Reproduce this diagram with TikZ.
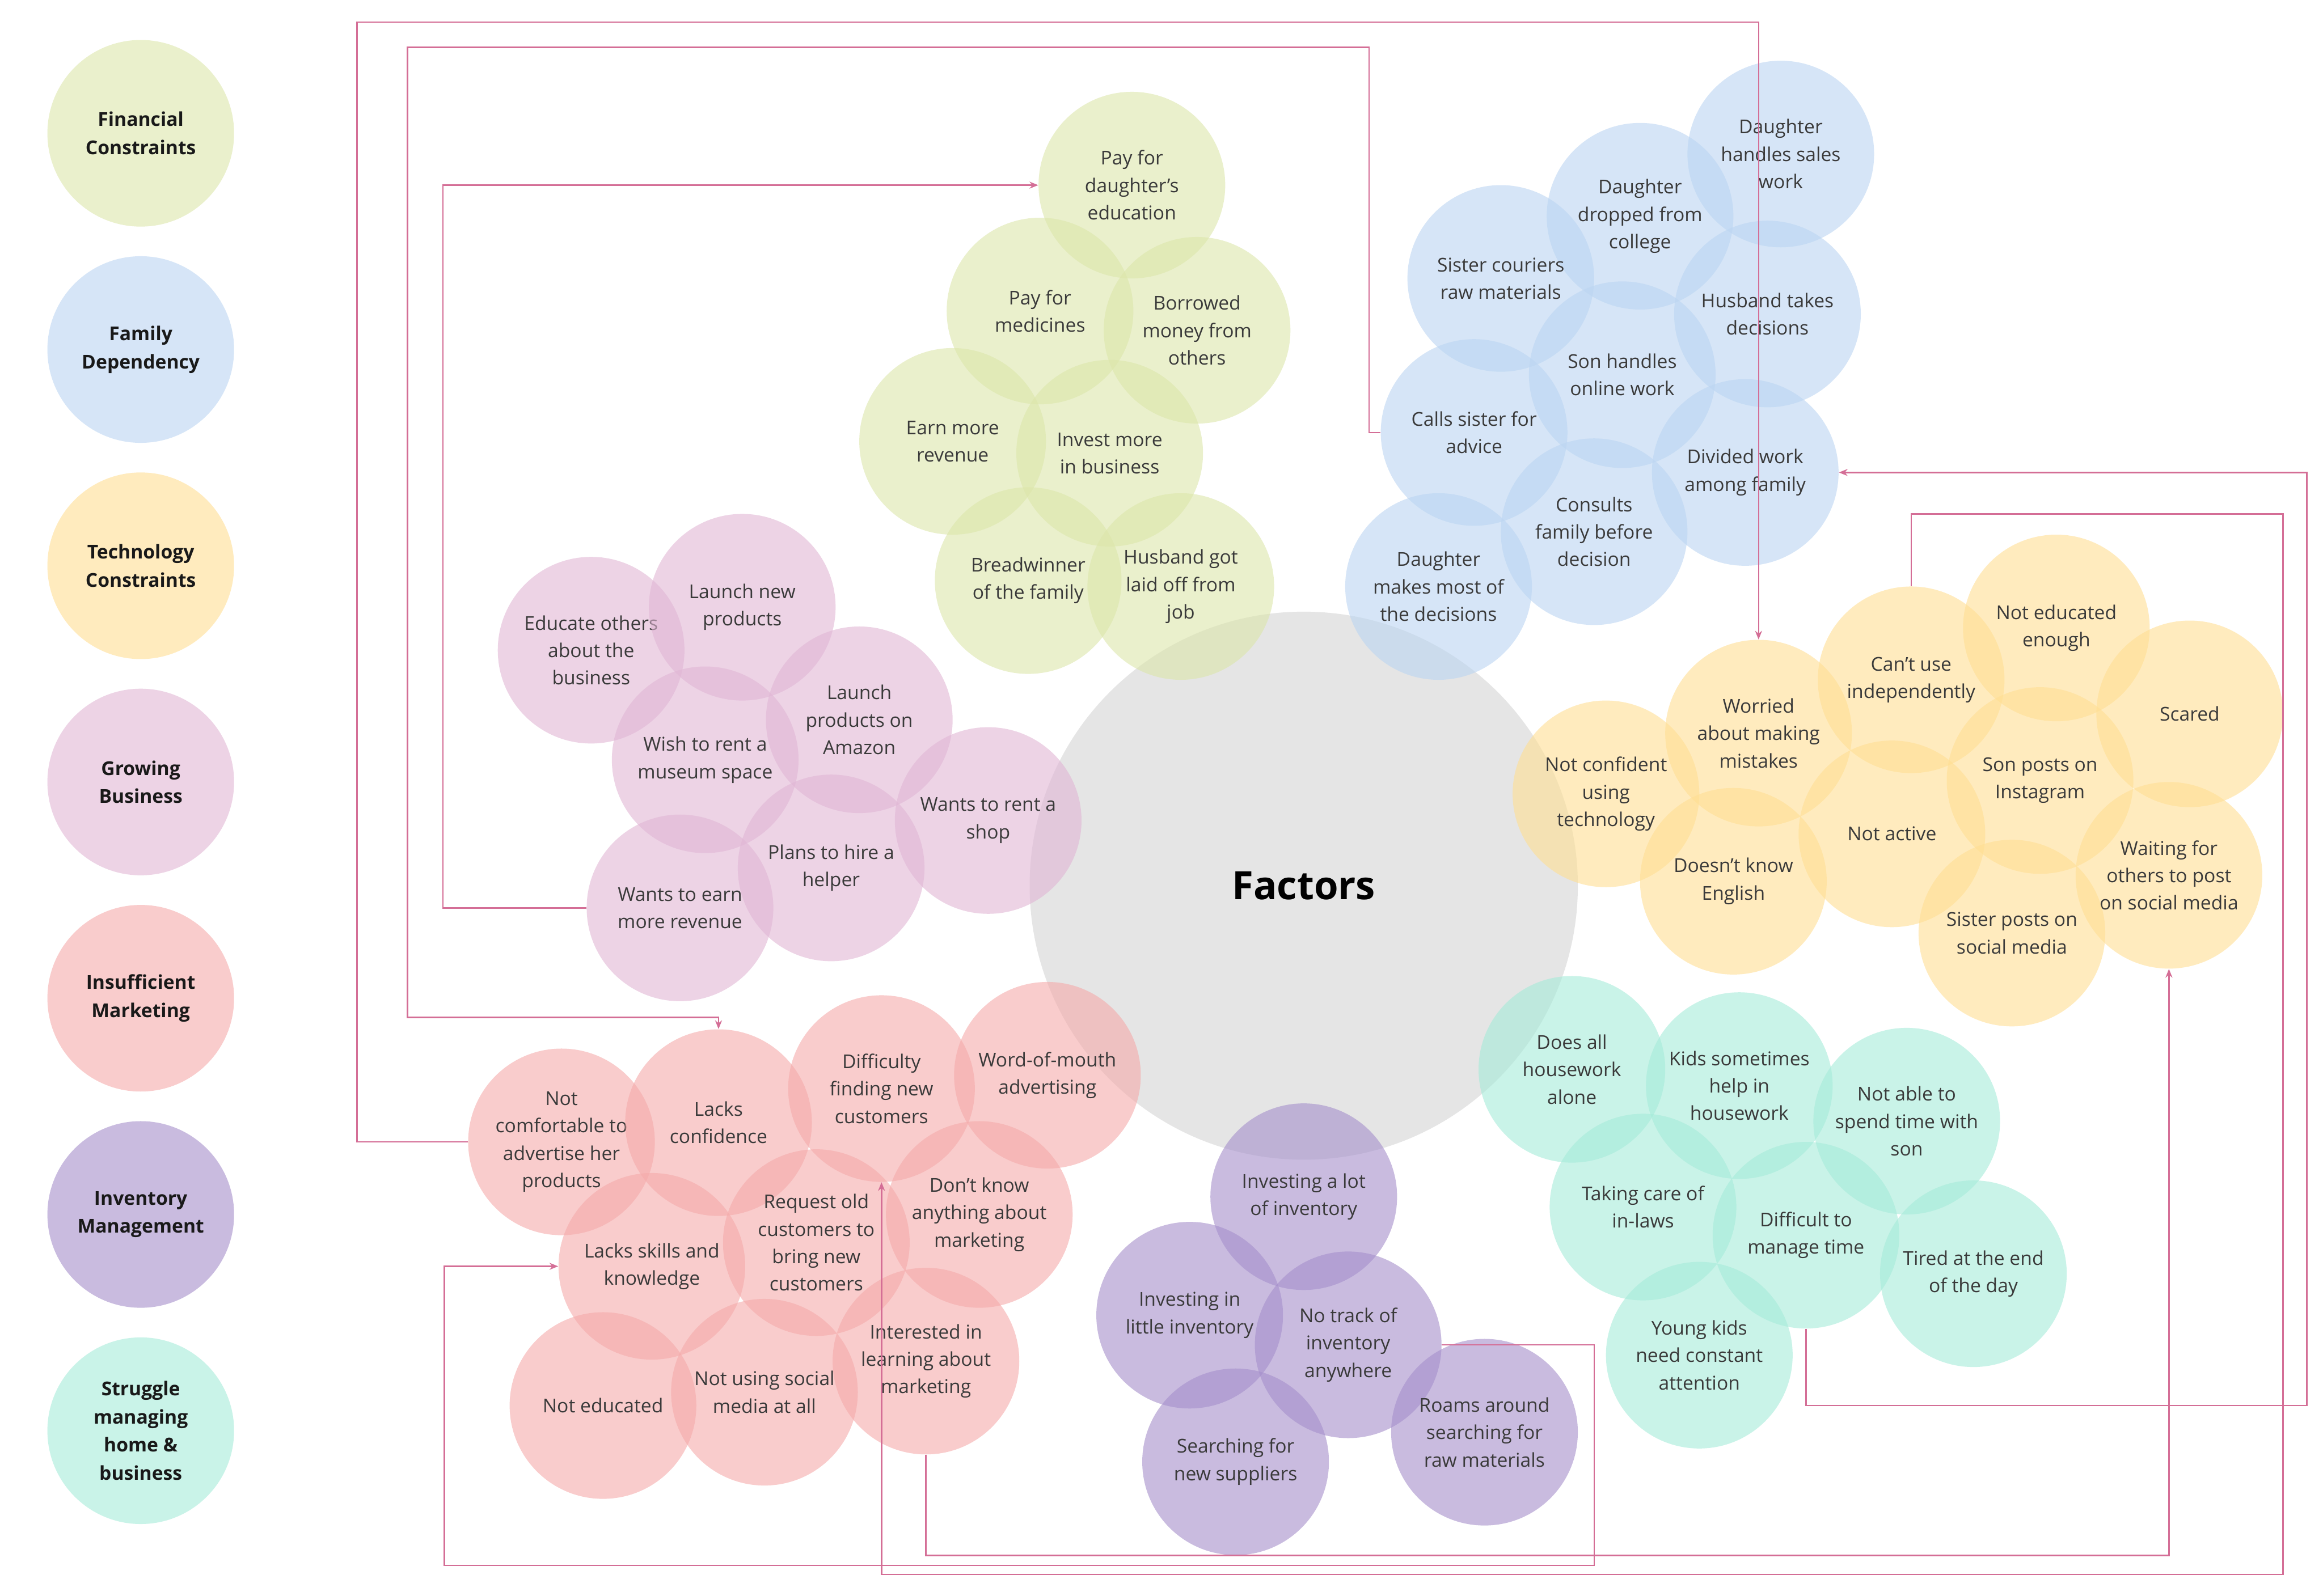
\documentclass[tikz,border=0pt]{standalone}
\usepackage{fontspec}
\setmainfont{Open Sans}
\usetikzlibrary{arrows.meta}
\definecolor{finC}{RGB}{220,230,170}
\definecolor{famC}{RGB}{187,213,242}
\definecolor{techC}{RGB}{255,223,147}
\definecolor{growC}{RGB}{225,182,213}
\definecolor{markC}{RGB}{245,170,170}
\definecolor{invC}{RGB}{165,143,203}
\definecolor{homeC}{RGB}{165,235,217}
\definecolor{greyC}{RGB}{229,229,229}
\definecolor{txtC}{RGB}{58,58,58}
\definecolor{lnkC}{RGB}{212,110,150}

\begin{document}
\begin{tikzpicture}[x=0.03cm, y=-0.03cm,
    bub/.style={circle, minimum size=3.78cm, inner sep=0pt, align=center,
        fill opacity=0.6, text opacity=1, text=txtC,
        font=\fontsize{11}{15.8}\selectfont},
    finbub/.style={bub, fill=finC},
    fambub/.style={bub, fill=famC},
    techbub/.style={bub, fill=techC},
    growbub/.style={bub, fill=growC},
    markbub/.style={bub, fill=markC},
    invbub/.style={bub, fill=invC},
    homebub/.style={bub, fill=homeC},
    legendtxt/.style={text=black!90, font=\fontsize{11}{16.2}\selectfont\bfseries},
    link/.style={draw=lnkC, line width=0.8pt, -{Stealth[length=5pt,width=4pt]}}]
    \fill[white] (0,0) rectangle (1568,1077.3);
    \useasboundingbox (0,0) rectangle (1568,1077.3);

    % legend
    \node[finbub, legendtxt] (kfin) at (95,90) {Financial\\Constraints};
    \node[fambub, legendtxt] (kfam) at (95,236) {Family\\Dependency};
    \node[techbub, legendtxt] (ktech) at (95,382) {Technology\\Constraints};
    \node[growbub, legendtxt] (kgrow) at (95,528) {Growing\\Business};
    \node[markbub, legendtxt] (kmark) at (95,674) {Insufficient\\Marketing};
    \node[invbub, legendtxt] (kinv) at (95,820) {Inventory\\Management};
    \node[homebub, legendtxt] (khome) at (95,966) {Struggle\\managing\\home \&\\business};

    % centre
    \node[circle, fill=greyC, minimum size=11.1cm, inner sep=0pt,
        font=\fontsize{22.5}{27}\selectfont\bfseries] (factors) at (880,598) {Factors};

    % financial constraints
    \foreach \nm/\px/\py/\txt in {
        paydaughter/764/125/{Pay for\\daughter's\\education},
        paymed/702/210/{Pay for\\medicines},
        borrowed/808/223/{Borrowed\\money from\\others},
        earnrev/643/298/{Earn more\\revenue},
        investmore/749/306/{Invest more\\in business},
        breadwinner/694/392/{Breadwinner\\of the family},
        laidoff/797/396/{Husband got\\laid off from\\job}} {
        \node[finbub] (\nm) at (\px,\py) {\txt};
    }

    % family dependency
    \foreach \nm/\px/\py/\txt in {
        dsales/1202/104/{Daughter\\handles sales\\work},
        ddropped/1107/146/{Daughter\\dropped from\\college},
        sistercour/1013/188/{Sister couriers\\raw materials},
        hdecide/1193/212/{Husband takes\\decisions},
        sononline/1095/253/{Son handles\\online work},
        callsister/995/292/{Calls sister for\\advice},
        divided/1178/319/{Divided work\\among family},
        consults/1076/359/{Consults\\family before\\decision},
        dmakes/971/396/{Daughter\\makes most of\\the decisions}} {
        \node[fambub] (\nm) at (\px,\py) {\txt};
    }

    % technology constraints
    \foreach \nm/\px/\py/\txt in {
        noteduc/1388/424/{Not educated\\enough},
        cantuse/1290/459/{Can't use\\independently},
        worried/1187/495/{Worried\\about making\\mistakes},
        scared/1478/482/{Scared},
        notconf/1084/536/{Not confident\\using\\technology},
        soninsta/1377/527/{Son posts on\\Instagram},
        notactive/1277/563/{Not active},
        english/1170/595/{Doesn't know\\English},
        waiting/1464/591/{Waiting for\\others to post\\on social media},
        sisterpost/1358/630/{Sister posts on\\social media}} {
        \node[techbub] (\nm) at (\px,\py) {\txt};
    }

    % growing business
    \foreach \nm/\px/\py/\txt in {
        educate/399/439/{Educate others\\about the\\business},
        launchnew/501/410/{Launch new\\products},
        museum/476/513/{Wish to rent a\\museum space},
        amazon/580/486/{Launch\\products on\\Amazon},
        shop/667/554/{Wants to rent a\\shop},
        helper/561/586/{Plans to hire a\\helper},
        earnmore/459/613/{Wants to earn\\more revenue}} {
        \node[growbub] (\nm) at (\px,\py) {\txt};
    }

    % insufficient marketing
    \foreach \nm/\px/\py/\txt in {
        notcomf/379/771/{Not\\comfortable to\\advertise her\\products},
        lacksconf/485/758/{Lacks\\confidence},
        difficulty/595/735/{Difficulty\\finding new\\customers},
        wordmouth/707/726/{Word-of-mouth\\advertising},
        lacksskills/440/855/{Lacks skills and\\knowledge},
        requestold/551/839/{Request old\\customers to\\bring new\\customers},
        dontknow/661/820/{Don't know\\anything about\\marketing},
        noteducated/407/949/{Not educated},
        socialmedia/516/940/{Not using social\\media at all},
        interested/625/919/{Interested in\\learning about\\marketing}} {
        \node[markbub] (\nm) at (\px,\py) {\txt};
    }

    % inventory management
    \foreach \nm/\px/\py/\txt in {
        investlot/880/808/{Investing a lot\\of inventory},
        investlittle/803/888/{Investing in\\little inventory},
        notrack/910/908/{No track of\\inventory\\anywhere},
        suppliers/834/987/{Searching for\\new suppliers},
        roams/1002/967/{Roams around\\searching for\\raw materials}} {
        \node[invbub] (\nm) at (\px,\py) {\txt};
    }

    % home and business
    \foreach \nm/\px/\py/\txt in {
        housework/1061/722/{Does all\\housework\\alone},
        kidshelp/1174/733/{Kids sometimes\\help in\\housework},
        sontime/1287/757/{Not able to\\spend time with\\son},
        inlaws/1109/815/{Taking care of\\in-laws},
        managetime/1219/834/{Difficult to\\manage time},
        youngkids/1147/915/{Young kids\\need constant\\attention},
        tired/1332/860/{Tired at the end\\of the day}} {
        \node[homebub] (\nm) at (\px,\py) {\txt};
    }

    % links
    \draw[link] (notcomf.west) -| (241,15) -| (worried.north);
    \draw[link] (callsister.west) -| (924,32) -| (275,687) -| (lacksconf.north);
    \draw[link] (earnmore.west) -| (299,125) -- (paydaughter.west);
    \draw[link] (managetime.south) |- (1557,949) |- (divided.east);
    \draw[link] (cantuse.north) |- (1541,347) -- (1541,1063) -| (difficulty.south);
    \draw[link] (interested.south) -- ++(0,68) -| (waiting.south);
    \draw[link] (notrack.east) -| (1076,1057) -| (300,855) -- (lacksskills.west);
\end{tikzpicture}
\end{document}
